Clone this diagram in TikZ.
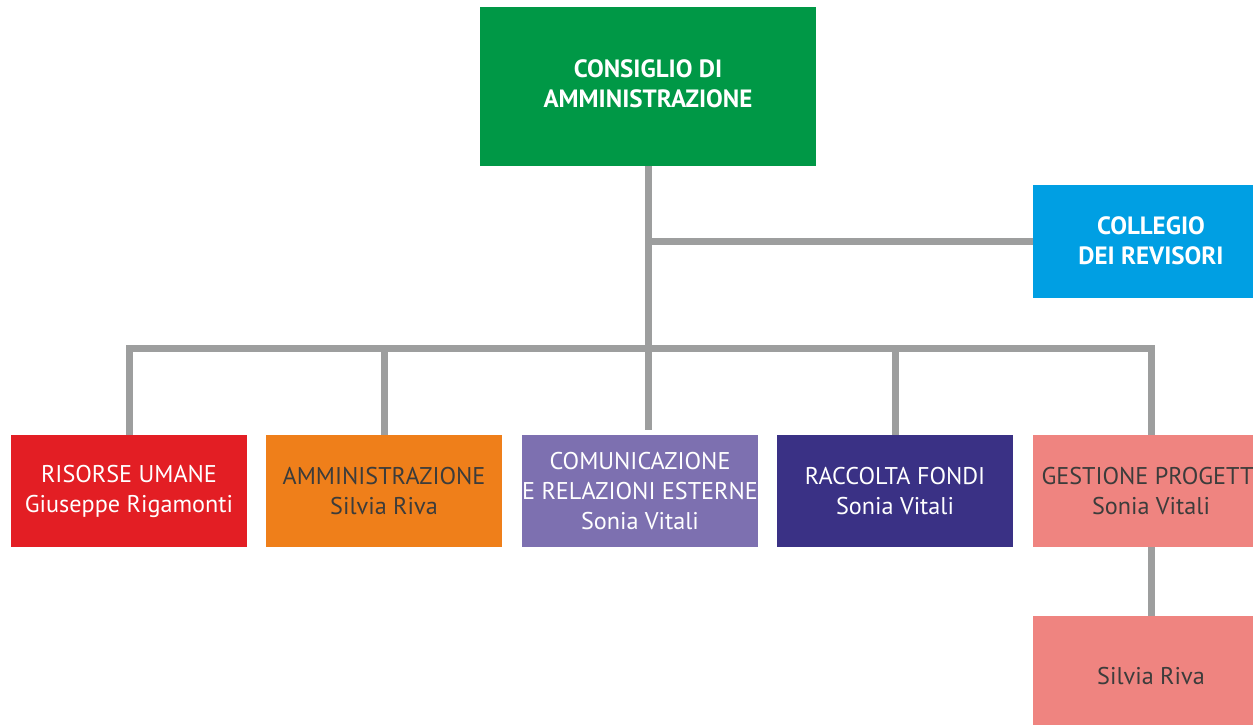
\documentclass[tikz,border=0pt]{standalone}
\usepackage{fontspec}
\setmainfont{PT Sans}
\definecolor{cgreen}{HTML}{009846}
\definecolor{cblue}{HTML}{009FE3}
\definecolor{cred}{HTML}{E31E24}
\definecolor{corange}{HTML}{EF7F1A}
\definecolor{clilac}{HTML}{7D70B0}
\definecolor{cdark}{HTML}{3A3185}
\definecolor{cpink}{HTML}{EF8480}
\definecolor{cline}{HTML}{9D9E9E}
\definecolor{ctext}{HTML}{3C3C3B}
\tikzset{
  box/.style={rectangle, inner sep=0pt, minimum width=236pt, minimum height=112pt, align=center, font=\fontsize{24.2}{30}\selectfont},
  topbox/.style={box, font=\bfseries\fontsize{25}{30}\selectfont, text=white},
  conn/.style={draw=cline, line width=7pt, line join=miter},
}
\begin{document}
\begin{tikzpicture}[x=1pt,y=-1pt]
\useasboundingbox (0,0) rectangle (1253,725);
\coordinate (barY) at (0,348);
\coordinate (trunkend) at (648,430);
\node[topbox, fill=cgreen, minimum width=336pt, minimum height=159pt] (cda) at (648,86.5) {CONSIGLIO DI\\AMMINISTRAZIONE\\[-24pt]\mbox{}};
\node[topbox, fill=cblue, minimum height=113pt] (cdr) at (1151,241) {COLLEGIO\\DEI REVISORI};
\node[box, fill=cred, text=white] (ru) at (129,491) {RISORSE UMANE\\Giuseppe Rigamonti};
\node[box, fill=corange, text=ctext] (am) at (384,491) {AMMINISTRAZIONE\\Silvia Riva};
\node[box, fill=clilac, text=white] (co) at (640,491) {COMUNICAZIONE\\E RELAZIONI ESTERNE\\Sonia Vitali};
\node[box, fill=cdark, text=white] (rf) at (895,491) {RACCOLTA FONDI\\Sonia Vitali};
\node[box, fill=cpink, text=ctext] (gp) at (1151,491) {GESTIONE PROGETTI\\Sonia Vitali};
\node[box, fill=cpink, text=ctext, minimum height=120pt] (sr) at (1151,676) {Silvia Riva};
\draw[conn] (cda.south) -- (trunkend);
\draw[conn] (cda.south |- cdr.west) -- (cdr.west);
\draw[conn] (ru.north) -- (ru.north |- barY) -| (gp.north);
\draw[conn] (am.north) -- (am.north |- barY);
\draw[conn] (rf.north) -- (rf.north |- barY);
\draw[conn] (gp.south) -- (sr.north);
\end{tikzpicture}
\end{document}
